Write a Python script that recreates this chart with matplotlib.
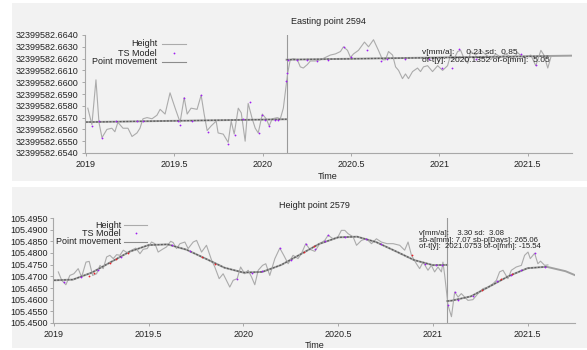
import matplotlib
matplotlib.use("Agg")
import matplotlib.pyplot as plt
from matplotlib.patches import Rectangle
from matplotlib.lines import Line2D
from matplotlib.ticker import FixedLocator, FuncFormatter

plt.rcParams['font.family'] = ['Liberation Sans', 'DejaVu Sans']
plt.rcParams['font.size'] = 6.5

W, H = 587, 350

# ---------------- Easting point 2594 ----------------
e_break = 2020.1352
e_t = [2019.011, 2019.034, 2019.057, 2019.074, 2019.091, 2019.119, 2019.147, 2019.164,
       2019.181, 2019.210, 2019.238, 2019.261, 2019.289, 2019.306, 2019.323, 2019.346,
       2019.374, 2019.402, 2019.420, 2019.448, 2019.476, 2019.505, 2019.533, 2019.556,
       2019.573, 2019.595, 2019.629, 2019.652, 2019.669, 2019.686, 2019.709, 2019.737,
       2019.748, 2019.777, 2019.805, 2019.822, 2019.839, 2019.862, 2019.879, 2019.901,
       2019.918, 2019.941, 2019.958, 2019.975, 2019.998, 2020.020, 2020.037, 2020.054,
       2020.083, 2020.100, 2020.117, 2020.136, 2020.142, 2020.156, 2020.173, 2020.196,
       2020.213, 2020.230, 2020.253, 2020.270, 2020.298, 2020.327, 2020.355, 2020.383,
       2020.412, 2020.440, 2020.457, 2020.480, 2020.497, 2020.514, 2020.542, 2020.576,
       2020.599, 2020.627, 2020.655, 2020.678, 2020.695, 2020.712, 2020.735, 2020.752,
       2020.769, 2020.791, 2020.808, 2020.825, 2020.848, 2020.876, 2020.893, 2020.910,
       2020.933, 2020.961, 2020.990, 2021.018, 2021.046, 2021.063, 2021.080, 2021.103,
       2021.120, 2021.137, 2021.160, 2021.177, 2021.205, 2021.234, 2021.273, 2021.290,
       2021.319, 2021.347, 2021.375, 2021.415, 2021.443, 2021.472, 2021.500, 2021.517,
       2021.545, 2021.574, 2021.591, 2021.613, 2021.630]
e_h = [32399582.6578, 32399582.6564, 32399582.6602, 32399582.6566, 32399582.6553, 32399582.6560,
       32399582.6561, 32399582.6558, 32399582.6566, 32399582.6561, 32399582.6561, 32399582.6554,
       32399582.6557, 32399582.6561, 32399582.6569, 32399582.6570, 32399582.6569, 32399582.6572,
       32399582.6577, 32399582.6573, 32399582.6591, 32399582.6578, 32399582.6566, 32399582.6587,
       32399582.6573, 32399582.6578, 32399582.6577, 32399582.6589, 32399582.6573, 32399582.6559,
       32399582.6563, 32399582.6567, 32399582.6557, 32399582.6556, 32399582.6549, 32399582.6567,
       32399582.6556, 32399582.6578, 32399582.6574, 32399582.6550, 32399582.6582, 32399582.6569,
       32399582.6561, 32399582.6557, 32399582.6573, 32399582.6569, 32399582.6563, 32399582.6569,
       32399582.6570, 32399582.6569, 32399582.6578, 32399582.6601, 32399582.6608, 32399582.6619,
       32399582.6620, 32399582.6619, 32399582.6613, 32399582.6612, 32399582.6615, 32399582.6618,
       32399582.6618, 32399582.6619, 32399582.6621, 32399582.6623, 32399582.6624, 32399582.6626,
       32399582.6630, 32399582.6627, 32399582.6621, 32399582.6624, 32399582.6627, 32399582.6634,
       32399582.6630, 32399582.6636, 32399582.6627, 32399582.6619, 32399582.6619, 32399582.6626,
       32399582.6623, 32399582.6613, 32399582.6610, 32399582.6603, 32399582.6607, 32399582.6603,
       32399582.6609, 32399582.6612, 32399582.6609, 32399582.6613, 32399582.6614, 32399582.6609,
       32399582.6614, 32399582.6610, 32399582.6614, 32399582.6623, 32399582.6619, 32399582.6626,
       32399582.6627, 32399582.6621, 32399582.6616, 32399582.6626, 32399582.6623, 32399582.6627,
       32399582.6622, 32399582.6619, 32399582.6624, 32399582.6621, 32399582.6624, 32399582.6620,
       32399582.6625, 32399582.6621, 32399582.6622, 32399582.6623, 32399582.6614, 32399582.6627,
       32399582.6623, 32399582.6612, 32399582.6621]
e_ts_t = [2019.034, 2019.074, 2019.091, 2019.170, 2019.287, 2019.323, 2019.521, 2019.533,
          2019.556, 2019.598, 2019.650, 2019.690, 2019.805, 2019.845, 2019.890, 2019.930,
          2019.980, 2019.996, 2020.015, 2020.037, 2020.071, 2020.088, 2020.134, 2020.138,
          2020.142, 2020.194, 2020.250, 2020.308, 2020.370, 2020.458, 2020.500, 2020.591,
          2020.671, 2020.705, 2020.808, 2020.940, 2021.016, 2021.073, 2021.110, 2021.205,
          2021.460, 2021.545]
e_ts_v = [32399582.6563, 32399582.6567, 32399582.6553, 32399582.6567, 32399582.6567, 32399582.6567,
          32399582.6567, 32399582.6564, 32399582.6587, 32399582.6567, 32399582.6589, 32399582.6558,
          32399582.6548, 32399582.6555, 32399582.6569, 32399582.6583, 32399582.6557, 32399582.6572,
          32399582.6568, 32399582.6563, 32399582.6568, 32399582.6568, 32399582.6601, 32399582.6608,
          32399582.6619, 32399582.6619, 32399582.6619, 32399582.6618, 32399582.6619, 32399582.6630,
          32399582.6621, 32399582.6627, 32399582.6618, 32399582.6620, 32399582.6620, 32399582.6620,
          32399582.6612, 32399582.6612, 32399582.6628, 32399582.6620, 32399582.6624, 32399582.6615]
# point movement: linear trend with an offset at the break
e_move_t = [[2019.0, e_break], [e_break, 2021.75]]
e_move_v = [[32399582.65662, 32399582.65686], [32399582.66191, 32399582.66225]]
# span of the fitted model (dotted)
e_model_t = [[2019.0, e_break], [e_break, 2021.62]]
e_model_v = [[32399582.65662, 32399582.65686], [32399582.66191, 32399582.66221]]
e_yticks = [32399582.6540, 32399582.6550, 32399582.6560, 32399582.6570, 32399582.6580,
            32399582.6590, 32399582.6600, 32399582.6610, 32399582.6620, 32399582.6630,
            32399582.6640]
e_stats = ["v[mm/a]:     0.21 sd:  0.85",
           "of-t[y]:  2020.1352 of-o[mm]:  5.05"]

# ---------------- Height point 2579 ----------------
h_break = 2021.0753
h_t = [2019.023, 2019.041, 2019.063, 2019.084, 2019.105, 2019.128, 2019.146, 2019.169,
       2019.186, 2019.204, 2019.225, 2019.243, 2019.260, 2019.278, 2019.295, 2019.313,
       2019.331, 2019.348, 2019.366, 2019.387, 2019.410, 2019.432, 2019.454, 2019.471,
       2019.492, 2019.515, 2019.533, 2019.550, 2019.573, 2019.594, 2019.616, 2019.629,
       2019.647, 2019.665, 2019.691, 2019.708, 2019.735, 2019.753, 2019.779, 2019.805,
       2019.832, 2019.849, 2019.872, 2019.893, 2019.928, 2019.946, 2019.967, 2019.985,
       2020.007, 2020.025, 2020.043, 2020.060, 2020.078, 2020.101, 2020.118, 2020.139,
       2020.166, 2020.192, 2020.213, 2020.236, 2020.262, 2020.288, 2020.306, 2020.329,
       2020.350, 2020.377, 2020.403, 2020.429, 2020.447, 2020.473, 2020.499, 2020.517,
       2020.535, 2020.552, 2020.579, 2020.597, 2020.623, 2020.649, 2020.676, 2020.702,
       2020.728, 2020.758, 2020.790, 2020.825, 2020.851, 2020.869, 2020.887, 2020.913,
       2020.930, 2020.948, 2020.974, 2020.992, 2021.009, 2021.027, 2021.045, 2021.053,
       2021.062, 2021.080, 2021.098, 2021.115, 2021.133, 2021.150, 2021.168, 2021.185,
       2021.211, 2021.238, 2021.264, 2021.291, 2021.317, 2021.335, 2021.352, 2021.370,
       2021.396, 2021.414, 2021.440, 2021.467, 2021.484, 2021.502, 2021.514, 2021.537,
       2021.554, 2021.568, 2021.590, 2021.607]
h_v = [105.4719, 105.4683, 105.4664, 105.4704, 105.4711, 105.4733, 105.4697, 105.4761,
       105.4764, 105.4704, 105.4711, 105.4747, 105.4733, 105.4783, 105.4790, 105.4776,
       105.4793, 105.4790, 105.4812, 105.4801, 105.4812, 105.4821, 105.4797, 105.4816,
       105.4819, 105.4847, 105.4840, 105.4804, 105.4816, 105.4826, 105.4850, 105.4845,
       105.4819, 105.4840, 105.4847, 105.4819, 105.4847, 105.4854, 105.4804, 105.4833,
       105.4769, 105.4740, 105.4690, 105.4711, 105.4654, 105.4683, 105.4690, 105.4740,
       105.4711, 105.4726, 105.4697, 105.4664, 105.4726, 105.4747, 105.4754, 105.4704,
       105.4776, 105.4821, 105.4790, 105.4754, 105.4790, 105.4776, 105.4797, 105.4840,
       105.4816, 105.4807, 105.4840, 105.4854, 105.4876, 105.4861, 105.4869, 105.4897,
       105.4897, 105.4883, 105.4869, 105.4833, 105.4854, 105.4861, 105.4840, 105.4861,
       105.4847, 105.4840, 105.4840, 105.4833, 105.4812, 105.4847, 105.4790, 105.4754,
       105.4733, 105.4761, 105.4726, 105.4747, 105.4719, 105.4740, 105.4719, 105.4761,
       105.4706, 105.4575, 105.4527, 105.4633, 105.4611, 105.4626, 105.4611, 105.4597,
       105.4600, 105.4626, 105.4647, 105.4654, 105.4668, 105.4683, 105.4719, 105.4726,
       105.4690, 105.4726, 105.4740, 105.4747, 105.4790, 105.4804, 105.4776, 105.4799,
       105.4754, 105.4765, 105.4747, 105.4749]
h_ts_t = [2019.053, 2019.141, 2019.234, 2019.352, 2019.621, 2019.717, 2019.964, 2020.043,
          2020.097, 2020.192, 2020.250, 2020.329, 2020.377, 2020.429, 2020.447, 2020.535,
          2020.649, 2020.728, 2020.957, 2021.018, 2021.050, 2021.078, 2021.115, 2021.133,
          2021.211, 2021.340, 2021.414, 2021.467, 2021.537, 2021.590]
h_ts_v = [105.4676, 105.4697, 105.4729, 105.4783, 105.4836, 105.4810, 105.4690, 105.4715,
          105.4722, 105.4821, 105.4771, 105.4840, 105.4816, 105.4853, 105.4876, 105.4868,
          105.4860, 105.4840, 105.4752, 105.4750, 105.4750, 105.4578, 105.4633, 105.4600,
          105.4617, 105.4680, 105.4706, 105.4727, 105.4800, 105.4741]
h_red_t = [2019.186, 2019.210, 2019.295, 2019.330, 2019.390, 2019.780, 2019.850, 2020.320,
           2020.370, 2020.890, 2021.260, 2021.360, 2021.420]
h_red_v = [105.4703, 105.4714, 105.4759, 105.4775, 105.4802, 105.4785, 105.4755, 105.4805,
           105.4828, 105.4790, 105.4640, 105.4690, 105.4708]
# point movement: seasonal curve, before and after the break
h_move_pre_t = [2019.0, 2019.1, 2019.2, 2019.3, 2019.4, 2019.5, 2019.6, 2019.7, 2019.8, 2019.9,
                2020.0, 2020.1, 2020.2, 2020.3, 2020.4, 2020.5, 2020.6, 2020.7, 2020.8, 2020.9,
                2021.0, h_break]
h_move_pre_v = [105.4683, 105.4686, 105.4716, 105.4761, 105.4806, 105.4834, 105.4837, 105.4814,
                105.4776, 105.4737, 105.4716, 105.4719, 105.4749, 105.4794, 105.4839, 105.4867,
                105.4870, 105.4847, 105.4809, 105.4770, 105.4748, 105.4749]
h_move_post_t = [h_break, 2021.1, 2021.2, 2021.3, 2021.4, 2021.5, 2021.6, 2021.7, 2021.75]
h_move_post_v = [105.4594, 105.4596, 105.4614, 105.4657, 105.4701, 105.4735, 105.4741, 105.4722,
                 105.4705]
h_model_end = 2021.6
h_yticks = [105.4500, 105.4550, 105.4600, 105.4650, 105.4700, 105.4750, 105.4800, 105.4850,
            105.4900, 105.4950]
h_stats = ["v[mm/a]:    3.30 sd:  3.08",
           "sb-a[mm]: 7.07 sb-p[Days]: 265.06",
           "of-t[y]:  2021.0753 of-o[mm]: -15.54"]

x_ticks = [2019, 2019.5, 2020, 2020.5, 2021, 2021.5]
x_labels = ['2019', '2019.5', '2020', '2020.5', '2021', '2021.5']

PANEL = '#f2f2f2'
AXIS = '#a8a8a8'
HEIGHT_C = '#ababab'
MOVE_C = '#a0a0a0'
MODEL_C = '#5c5c5c'
PURPLE = '#a020f0'
TXT = '#222222'


def fx(px):
    return px / W


def fy(py):
    return 1 - py / H


def style_axes(ax, yticks, ypad):
    ax.set_facecolor('none')
    for s in ('top', 'right'):
        ax.spines[s].set_visible(False)
    for s in ('left', 'bottom'):
        ax.spines[s].set_color(AXIS)
        ax.spines[s].set_linewidth(0.8)
    ax.set_xlim(2018.995, 2021.75)
    ax.set_ylim(yticks[0], yticks[-1])
    ax.xaxis.set_major_locator(FixedLocator(x_ticks))
    ax.set_xticklabels(x_labels)
    ax.yaxis.set_major_locator(FixedLocator(yticks))
    ax.yaxis.set_major_formatter(FuncFormatter(lambda v, p: f'{v:.4f}'))
    ax.tick_params(axis='both', colors=AXIS, labelcolor=TXT, labelsize=6.5,
                   length=2, width=0.7)
    ax.tick_params(axis='x', pad=3)
    ax.tick_params(axis='y', pad=ypad)


def draw_legend(fig, right, rows, x0, x1):
    items = [('Height', HEIGHT_C, None), ('TS Model', None, PURPLE), ('Point movement', '#8c8c8c', None)]
    for (label, lc, mc), row in zip(items, rows):
        fig.text(fx(right), fy(row), label, ha='right', va='center', color=TXT, fontsize=6.5)
        if lc:
            fig.add_artist(Line2D([fx(x0), fx(x1)], [fy(row), fy(row)], color=lc, lw=0.8))
        else:
            fig.add_artist(Line2D([fx((x0 + x1) / 2)], [fy(row)], marker='o', ms=1.3,
                                  color=mc, lw=0, mew=0))


fig = plt.figure(figsize=(W / 100, H / 100), dpi=100)
fig.patch.set_facecolor('white')
fig.add_artist(Rectangle((fx(12), fy(181)), fx(W - 12), 178 / H, transform=fig.transFigure,
                         facecolor=PANEL, edgecolor='none', zorder=-5))
fig.add_artist(Rectangle((fx(12), fy(348)), fx(W - 12), 161 / H, transform=fig.transFigure,
                         facecolor=PANEL, edgecolor='none', zorder=-5))

# top panel: easting
ax1 = fig.add_axes([fx(85), fy(153), fx(572 - 85), (153 - 35) / H])
style_axes(ax1, e_yticks, 3)
ax1.axvline(e_break, color='#9a9a9a', lw=0.8)
ax1.plot(e_t, e_h, color=HEIGHT_C, lw=0.8)
for t, v in zip(e_move_t, e_move_v):
    ax1.plot(t, v, color=MOVE_C, lw=1.4)
for t, v in zip(e_model_t, e_model_v):
    ax1.plot(t, v, color=MODEL_C, lw=0.9, ls=(0, (1.5, 1.2)))
ax1.plot(e_ts_t, e_ts_v, 'o', ms=1.3, color=PURPLE, mew=0)
fig.text(fx(422), fy(56.5), '\n'.join(e_stats), ha='left', va='center', color=TXT,
         fontsize=6, linespacing=1.2)
fig.text(fx(328), fy(22), 'Easting point 2594', ha='center', va='center', color=TXT, fontsize=6.5)
fig.text(fx(328), fy(177), 'Time', ha='center', va='center', color=TXT, fontsize=6.5)
draw_legend(fig, 157, [44, 53, 62], 162, 186)

# bottom panel: height
ax2 = fig.add_axes([fx(53), fy(323), fx(575 - 53), (323 - 218) / H])
style_axes(ax2, h_yticks, 1.5)
ax2.axvline(h_break, color='#9a9a9a', lw=0.8)
ax2.plot(h_t, h_v, color=HEIGHT_C, lw=0.8)
ax2.plot(h_move_pre_t, h_move_pre_v, color=MOVE_C, lw=1.4)
ax2.plot(h_move_post_t, h_move_post_v, color=MOVE_C, lw=1.4)
ax2.plot(h_move_pre_t, h_move_pre_v, color=MODEL_C, lw=0.9, ls=(0, (1.5, 1.2)))
post_t = [t for t in h_move_post_t if t <= h_model_end]
post_v = h_move_post_v[:len(post_t)]
ax2.plot(post_t, post_v, color=MODEL_C, lw=0.9, ls=(0, (1.5, 1.2)))
ax2.plot(h_red_t, h_red_v, 'o', ms=1.3, color='#e8242c', mew=0)
ax2.plot(h_ts_t, h_ts_v, 'o', ms=1.3, color=PURPLE, mew=0)
fig.text(fx(419), fy(240), '\n'.join(h_stats), ha='left', va='center', color=TXT,
         fontsize=5.6, linespacing=0.95)
fig.text(fx(314), fy(205), 'Height point 2579', ha='center', va='center', color=TXT, fontsize=6.5)
fig.text(fx(315), fy(346), 'Time', ha='center', va='center', color=TXT, fontsize=6.5)
draw_legend(fig, 121, [225, 233, 242], 124, 147)

fig.savefig('out.png', dpi=100, facecolor='white')
